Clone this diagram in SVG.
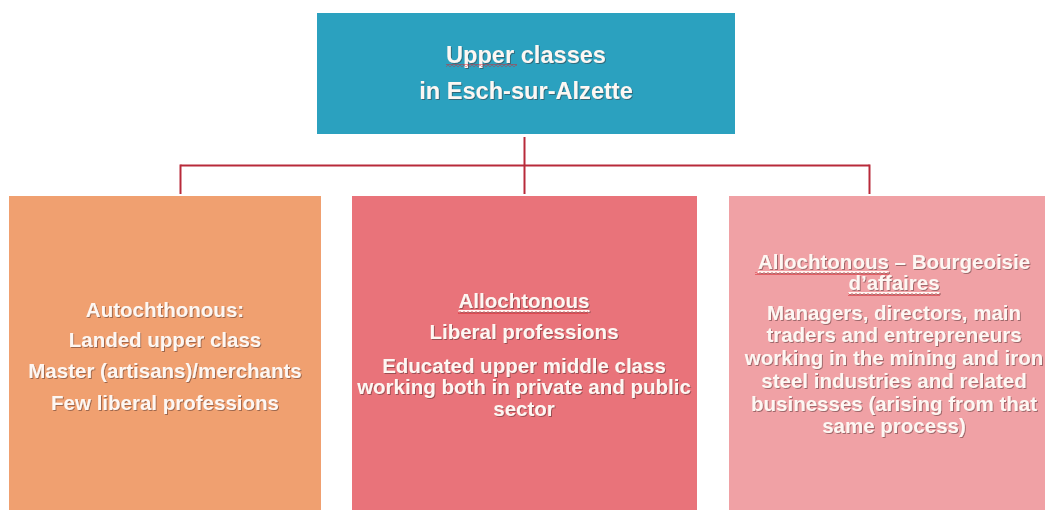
<svg xmlns="http://www.w3.org/2000/svg" width="1045" height="510" viewBox="0 0 1045 510">
  <defs>
    <style>
      .lbl { font-family: "Liberation Sans", Arial, sans-serif; font-weight: bold; fill: #fdf7f3; text-anchor: middle; filter: url(#shade); }
      .title { font-size: 23.6px; }
      .body { font-size: 20.5px; }
      .ul { text-decoration: underline; }
      .wire { stroke: #b82a3a; stroke-width: 2; fill: none; }
    </style>
    <filter id="shade" x="-5%" y="-20%" width="110%" height="150%">
      <feDropShadow dx="1" dy="1" stdDeviation="0.7" flood-color="#3a2020" flood-opacity="0.45"/>
    </filter>
    <pattern id="squiggle" width="4" height="3" patternUnits="userSpaceOnUse">
      <path d="M0,2.4 L2,0.6 L4,2.4" stroke="#d8232a" stroke-width="0.9" fill="none"/>
    </pattern>
  </defs>

  <rect width="1045" height="510" fill="#ffffff"/>

  <!-- connectors -->
  <g id="connectors">
    <line class="wire" x1="524.5" y1="137" x2="524.5" y2="194"/>
    <line class="wire" x1="180.5" y1="165.5" x2="869.5" y2="165.5"/>
    <line class="wire" x1="180.5" y1="164.5" x2="180.5" y2="194"/>
    <line class="wire" x1="869.5" y1="164.5" x2="869.5" y2="194"/>
  </g>

  <!-- root -->
  <g id="upper-classes">
    <rect x="317" y="13" width="418" height="121" fill="#2ba1bf"/>
    <text class="lbl title" x="526" y="63">Upper classes</text>
    <text class="lbl title" x="526" y="99">in Esch-sur-Alzette</text>
    <rect x="446" y="64" width="71" height="3" fill="url(#squiggle)"/>
  </g>

  <!-- autochthonous -->
  <g id="autochthonous">
    <rect x="9" y="196" width="312" height="320" fill="#f0a070"/>
    <text class="lbl body" x="165" y="317">Autochthonous:</text>
    <text class="lbl body" x="165" y="347">Landed upper class</text>
    <text class="lbl body" x="165" y="378">Master (artisans)/merchants</text>
    <text class="lbl body" x="165" y="410">Few liberal professions</text>
  </g>

  <!-- allochtonous, liberal professions -->
  <g id="allochtonous-liberal">
    <rect x="352" y="196" width="345" height="320" fill="#e9737a"/>
    <text class="lbl body ul" x="524" y="308">Allochtonous</text>
    <rect x="458" y="311" width="130" height="3" fill="url(#squiggle)"/>
    <text class="lbl body" x="524" y="339">Liberal professions</text>
    <text class="lbl body" x="524" y="373">Educated upper middle class</text>
    <text class="lbl body" x="524" y="394">working both in private and public</text>
    <text class="lbl body" x="524" y="416">sector</text>
  </g>

  <!-- allochtonous, business bourgeoisie -->
  <g id="allochtonous-business">
    <rect x="729" y="196" width="330" height="320" fill="#f0a1a5"/>
    <text class="lbl body" x="894" y="269"><tspan class="ul">Allochtonous</tspan> – Bourgeoisie</text>
    <rect x="755" y="272" width="134" height="3" fill="url(#squiggle)"/>
    <text class="lbl body ul" x="894" y="290">d’affaires</text>
    <rect x="848" y="293" width="92" height="3" fill="url(#squiggle)"/>
    <text class="lbl body" x="894" y="320">Managers, directors, main</text>
    <text class="lbl body" x="894" y="342">traders and entrepreneurs</text>
    <text class="lbl body" x="894" y="365">working in the mining and iron</text>
    <text class="lbl body" x="894" y="388">steel industries and related</text>
    <text class="lbl body" x="894" y="411">businesses (arising from that</text>
    <text class="lbl body" x="894" y="433">same process)</text>
  </g>
</svg>
